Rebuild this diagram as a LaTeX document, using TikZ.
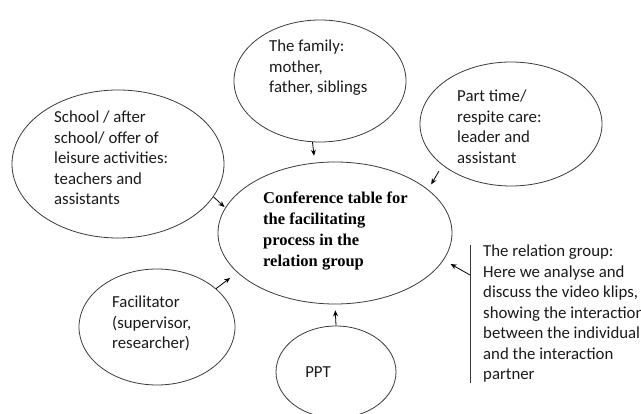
\documentclass[tikz,border=0pt]{standalone}
\usepackage{fontspec}
\setmainfont{Carlito}
\newfontfamily\timesfont{Liberation Serif}
\usetikzlibrary{shapes.geometric,arrows.meta}
\definecolor{edgegray}{HTML}{3A3A3A}
\definecolor{textgray}{HTML}{1A1A1A}
\tikzset{
  ell/.style={ellipse, draw=edgegray, line width=0.8pt, inner sep=0pt},
  lbl/.style={anchor=north west, inner sep=0pt, align=left, text=textgray,
              font=\fontsize{16.8}{20.5}\selectfont},
  ctr/.style={anchor=north west, inner sep=0pt, align=left, text=black,
              font=\timesfont\bfseries\fontsize{16.5}{21}\selectfont},
  arr/.style={-{Stealth[length=6pt,width=5pt]}, line width=0.8pt, black},
}
\begin{document}
\begin{tikzpicture}[x=1pt,y=-1pt]
\useasboundingbox (0,0) rectangle (641,414);
\clip (0,0) rectangle (641,414);
% ellipses
\node[ell, minimum width=172pt, minimum height=122pt] (fam) at (320,81) {};
\node[ell, minimum width=212pt, minimum height=148pt] (sch) at (118,164) {};
\node[ell, minimum width=182pt, minimum height=124pt] (prt) at (511,124) {};
\node[ell, minimum width=234pt, minimum height=142pt] (cen) at (335,233) {};
\node[ell, minimum width=156pt, minimum height=116pt] (fac) at (157,327) {};
\node[ell, minimum width=120pt, minimum height=92pt] (ppt) at (336,372) {};
% texts
\node[lbl] (tfam) at (269,40) {The family:\\mother,\\father, siblings};
\node[lbl] (tsch) at (54,111) {School / after\\school/ offer of\\leisure activities:\\teachers and\\assistants};
\node[lbl] (tprt) at (457,90) {Part time/\\respite care:\\leader and\\assistant};
\node[ctr] (tcen) at (263,192) {Conference table for\\the facilitating\\process in the\\relation group};
\node[lbl] (tfac) at (112,296) {Facilitator\\(supervisor,\\researcher)};
\node[lbl, anchor=base] (tppt) at (318,378) {PPT};
\node[lbl] (trel) at (483,245) {The relation group:\\Here we analyse and\\discuss the video klips,\\showing the interaction\\between the individual\\and the interaction\\partner};
% relation group bar
\coordinate (rtop) at (470,245);
\coordinate (rbot) at (470,383);
\coordinate (rarr) at (470,275);
\draw[edgegray, line width=0.8pt] (rtop) -- (rbot);
% arrows
\draw[arr, shorten >=7pt] (fam.-97.5) -- (cen.106.7);
\draw[arr, shorten <=7pt, shorten >=6pt] (prt.211.3) -- (cen.25);
\draw[arr, shorten >=1pt] (sch.-19.9) -- (cen.167.2);
\draw[arr, shorten >=9pt] (fac.33.9) -- (cen.202.4);
\draw[arr, shorten >=6pt] (ppt.north) -- (cen.south);
\draw[arr, shorten >=8pt] (rarr) -- (cen.-14.5);
\end{tikzpicture}
\end{document}
